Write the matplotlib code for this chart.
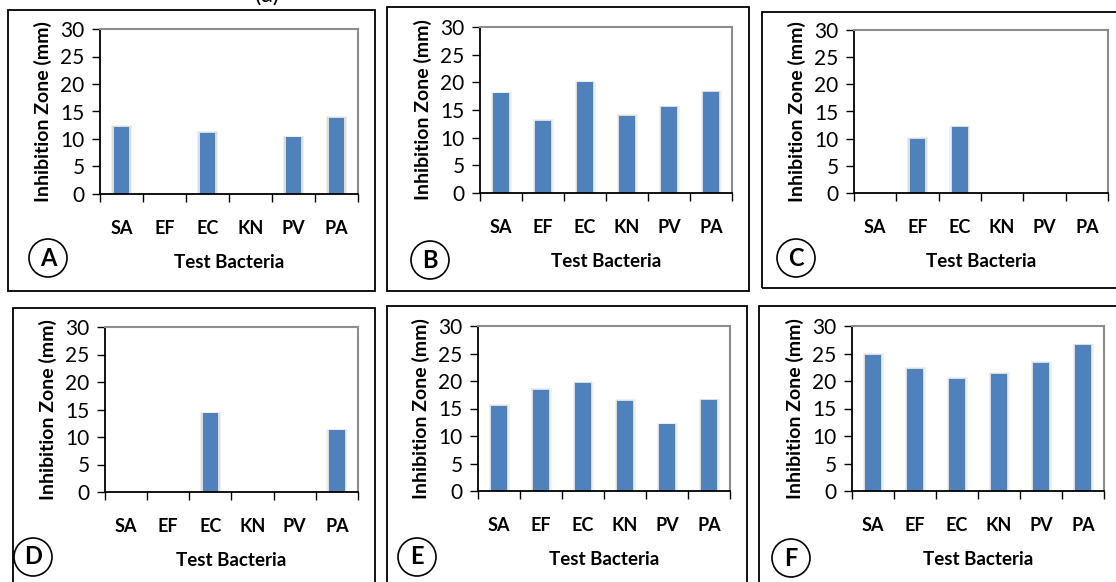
import matplotlib
matplotlib.use('Agg')
import matplotlib.pyplot as plt
from matplotlib.patches import Rectangle, Ellipse

plt.rcParams['font.family'] = ['Lato', 'DejaVu Sans']

W, H = 1116, 582

categories = ['SA', 'EF', 'EC', 'KN', 'PV', 'PA']
panel_letters = ['A', 'B', 'C', 'D', 'E', 'F']

zone_a = [12.2, 0, 11.1, 0, 10.3, 13.9]
zone_b = [18.0, 13.0, 20.0, 14.0, 15.5, 18.2]
zone_c = [0, 10.0, 12.1, 0, 0, 0]
zone_d = [0, 0, 14.3, 0, 0, 11.2]
zone_e = [15.5, 18.4, 19.6, 16.4, 12.1, 16.5]
zone_f = [24.8, 22.2, 20.4, 21.3, 23.3, 26.5]
all_zones = [zone_a, zone_b, zone_c, zone_d, zone_e, zone_f]

yticks = [0, 5, 10, 15, 20, 25, 30]

# pixel layout: plot area (left, top, right, bottom), outer box, circle centre
plot_px = [(100, 29, 358, 194), (480, 27, 732, 193), (854, 30, 1108, 193),
           (105, 327, 358, 492), (478, 326, 730, 491), (852, 326, 1104, 491)]
box_px = [(8, 10, 375, 291), (387, 7, 749, 291), (762, 12, 1130, 288),
          (13, 308, 375, 600), (387, 306, 747, 600), (759, 306, 1130, 600)]
circle_px = [(48, 258), (430, 260), (796, 258), (33, 557), (417, 557), (791, 558)]

BLUE = '#4f81bd'


def fx(x):
    return x / W


def fy(y):
    return 1 - y / H


fig = plt.figure(figsize=(W / 100, H / 100), dpi=100)

for k, vals in enumerate(all_zones):
    l, t, r, b = plot_px[k]
    ax = fig.add_axes([fx(l), fy(b), fx(r) - fx(l), fy(t) - fy(b)])
    x = range(len(categories))
    # soft glow round the bars
    ax.bar(x, [v + 0.3 if v > 0 else 0 for v in vals], width=0.50, color='#f0f0f0', zorder=1)
    ax.bar(x, [v + 0.15 if v > 0 else 0 for v in vals], width=0.44, color='#dcdcdc', zorder=1.5)
    ax.bar(x, vals, width=0.37, color=BLUE, zorder=2)
    ax.set_xlim(-0.5, 5.5)
    ax.set_ylim(0, 30)
    ax.set_yticks(yticks)
    ax.tick_params(axis='y', length=6, width=1, pad=5, labelsize=15, color='black')
    ax.set_xticks([i - 0.5 for i in range(len(categories) + 1)])
    ax.set_xticklabels([])
    ax.set_xticks(list(x), minor=True)
    ax.set_xticklabels(categories, minor=True, fontsize=13, fontweight='bold')
    ax.tick_params(axis='x', which='major', length=6, width=1, direction='out')
    ax.tick_params(axis='x', which='minor', length=0, pad=19)
    ax.set_xlabel('Test Bacteria', fontsize=13.5, fontweight='bold', labelpad=12)
    ax.set_ylabel('Inhibition Zone (mm)', fontsize=14, fontweight='bold', labelpad=6)
    for s in ['top', 'right']:
        ax.spines[s].set_color('#8c8c8c')
        ax.spines[s].set_linewidth(1.5)
    for s in ['left', 'bottom']:
        ax.spines[s].set_color('black')
        ax.spines[s].set_linewidth(1.3)

    bl, bt, br, bb = box_px[k]
    fig.patches.append(Rectangle((fx(bl), fy(bb)), fx(br) - fx(bl), fy(bt) - fy(bb),
                                 transform=fig.transFigure, fill=False,
                                 edgecolor='black', linewidth=1.3))
    cx, cy = circle_px[k]
    fig.patches.append(Ellipse((fx(cx), fy(cy)), 38 / W, 38 / H,
                               transform=fig.transFigure, fill=False,
                               edgecolor='black', linewidth=1.2))
    fig.text(fx(cx), fy(cy), panel_letters[k], ha='center', va='center',
             fontsize=17, fontweight='bold')

fig.text(fx(267), fy(-5), '(a)', ha='center', va='center', fontsize=17)

fig.savefig('out.png', dpi=100, facecolor='white')
